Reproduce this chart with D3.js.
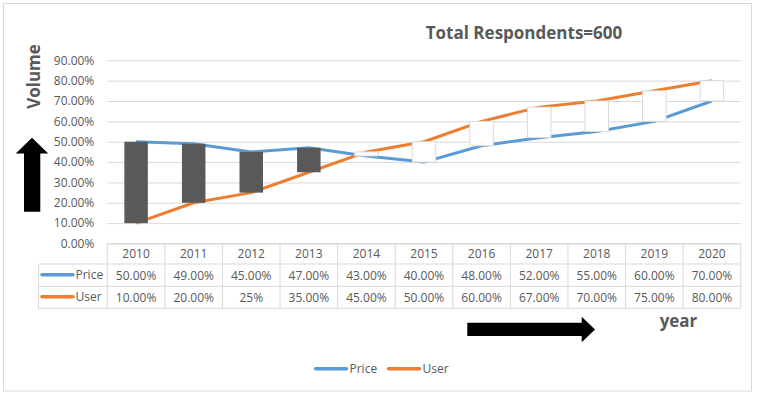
<!DOCTYPE html>
<html>
<head>
<meta charset="utf-8">
<script src="https://cdn.jsdelivr.net/npm/d3@7"></script>
<style>
  body { margin: 0; background: #fff; }
  svg text { font-family: "Open Sans", sans-serif; fill: #595959; }
</style>
</head>
<body>
<div id="chart"></div>
<script>
////
// DATA
////
const years = ["2010", "2011", "2012", "2013", "2014", "2015", "2016", "2017", "2018", "2019", "2020"];
const price = [0.50, 0.49, 0.45, 0.47, 0.43, 0.40, 0.48, 0.52, 0.55, 0.60, 0.70];
const user = [0.10, 0.20, 0.25, 0.35, 0.45, 0.50, 0.60, 0.67, 0.70, 0.75, 0.80];
// labels as printed in the data table (2012 user is shown as "25%")
const priceLabels = ["50.00%", "49.00%", "45.00%", "47.00%", "43.00%", "40.00%", "48.00%", "52.00%", "55.00%", "60.00%", "70.00%"];
const userLabels = ["10.00%", "20.00%", "25%", "35.00%", "45.00%", "50.00%", "60.00%", "67.00%", "70.00%", "75.00%", "80.00%"];
const yTicks = [0, 0.1, 0.2, 0.3, 0.4, 0.5, 0.6, 0.7, 0.8, 0.9];
const seriesNames = ["Price", "User"];
const seriesColors = { Price: "#5b9bd5", User: "#ed7d31" };

////
// CONTAINER
////
const W = 760, H = 396;
const plot = { left: 107.3, right: 740.7, top: 60.3, bottom: 243.5 };

const svg = d3.select("#chart").append("svg")
    .attr("width", W)
    .attr("height", H);

// outer chart border
svg.append("rect")
    .attr("x", 3.5).attr("y", 3.5)
    .attr("width", 748).attr("height", 387.5)
    .attr("fill", "#fff")
    .attr("stroke", "#d9d9d9");

const x = d3.scaleBand()
    .domain(years)
    .range([plot.left, plot.right])
    .padding(0);

const y = d3.scaleLinear()
    .domain([0, 0.9])
    .range([plot.bottom, plot.top]);

// gridlines
svg.append("g")
    .attr("transform", `translate(${plot.left},0)`)
    .call(d3.axisLeft(y).tickValues(yTicks).tickSize(-(plot.right - plot.left)).tickFormat(""))
    .call(g => g.select(".domain").remove())
    .call(g => g.selectAll(".tick line").attr("stroke", "#d9d9d9"));

// y axis labels
svg.append("g")
    .attr("transform", `translate(${plot.left},0)`)
    .call(d3.axisLeft(y).tickValues(yTicks).tickSize(0).tickPadding(13).tickFormat(d3.format(".2%")))
    .call(g => g.select(".domain").remove())
    .call(g => g.selectAll(".tick text")
        .style("font-family", "'Open Sans', sans-serif")
        .style("font-size", "12px")
        .attr("fill", "#595959"));

// series lines
const cx = d => x(d) + x.bandwidth() / 2;
const lineGen = d3.line()
    .x(d => cx(d.year))
    .y(d => y(d.v));

[["Price", price], ["User", user]].forEach(([name, vals]) => {
    svg.append("path")
        .datum(years.map((yr, i) => ({ year: yr, v: vals[i] })))
        .attr("d", lineGen)
        .attr("fill", "none")
        .attr("stroke", seriesColors[name])
        .attr("stroke-width", 3)
        .attr("stroke-linejoin", "round");
});

// up / down bars
const barW = 23.5;
svg.selectAll(".updown")
    .data(years.map((yr, i) => ({ year: yr, p: price[i], u: user[i] })))
    .enter()
    .append("rect")
    .attr("class", "updown")
    .attr("x", d => cx(d.year) - barW / 2)
    .attr("y", d => y(Math.max(d.p, d.u)))
    .attr("width", barW)
    .attr("height", d => Math.abs(y(d.p) - y(d.u)))
    .attr("fill", d => d.p > d.u ? "#595959" : "#fff")
    .attr("stroke", d => d.p > d.u ? "none" : "#d9d9d9")
    .attr("stroke-width", 1);

////
// DATA TABLE
////
const rowLines = [plot.bottom, 264, 286.3, 308.3];
const tableLeft = 38.5;
const tbl = svg.append("g").attr("class", "table");

// horizontal lines
tbl.selectAll(".hline")
    .data(rowLines)
    .enter().append("line")
    .attr("x1", (d, i) => i === 0 ? plot.left : tableLeft)
    .attr("x2", plot.right)
    .attr("y1", d => d).attr("y2", d => d)
    .attr("stroke", "#d9d9d9");

// vertical lines
const colEdges = years.map(d => x(d)).concat([plot.right]);
tbl.selectAll(".vline")
    .data(colEdges)
    .enter().append("line")
    .attr("x1", d => d).attr("x2", d => d)
    .attr("y1", rowLines[0]).attr("y2", rowLines[3])
    .attr("stroke", "#d9d9d9");
tbl.append("line")
    .attr("x1", tableLeft).attr("x2", tableLeft)
    .attr("y1", rowLines[1]).attr("y2", rowLines[3])
    .attr("stroke", "#d9d9d9");

const rowMid = (i) => (rowLines[i] + rowLines[i + 1]) / 2;

tbl.selectAll(".yearLabel")
    .data(years)
    .enter().append("text")
    .attr("x", d => cx(d))
    .attr("y", rowMid(0))
    .attr("text-anchor", "middle")
    .attr("dominant-baseline", "central")
    .style("font-size", "12px")
    .text(d => d);

[priceLabels, userLabels].forEach((labels, r) => {
    tbl.selectAll(".cell" + r)
        .data(labels)
        .enter().append("text")
        .attr("x", (d, i) => cx(years[i]))
        .attr("y", rowMid(r + 1))
        .attr("text-anchor", "middle")
        .attr("dominant-baseline", "central")
        .style("font-size", "12px")
        .text(d => d);
});

// legend keys inside the table
seriesNames.forEach((name, r) => {
    const yy = rowMid(r + 1) - 0.5;
    tbl.append("line")
        .attr("x1", 42).attr("x2", 73)
        .attr("y1", yy).attr("y2", yy)
        .attr("stroke", seriesColors[name])
        .attr("stroke-width", 3.5)
        .attr("stroke-linecap", "round");
    tbl.append("text")
        .attr("x", 75.5).attr("y", yy)
        .attr("dominant-baseline", "central")
        .style("font-size", "12px")
        .text(name);
});

////
// TITLES, ARROWS, LEGEND
////
svg.append("text")
    .attr("x", 524).attr("y", 32)
    .attr("text-anchor", "middle")
    .attr("dominant-baseline", "central")
    .style("font-size", "17px")
    .style("font-weight", "bold")
    .text("Total Respondents=600");

svg.append("text")
    .attr("transform", "translate(33.5,76.5) rotate(-90)")
    .attr("text-anchor", "middle")
    .attr("dominant-baseline", "central")
    .style("font-size", "17px")
    .style("font-weight", "bold")
    .text("Volume");

svg.append("text")
    .attr("x", 678.5).attr("y", 320.5)
    .attr("text-anchor", "middle")
    .attr("dominant-baseline", "central")
    .style("font-size", "17px")
    .style("font-weight", "bold")
    .text("year");

// up arrow
svg.append("path")
    .attr("d", "M32,137.7 L48.3,153.5 L40.3,153.5 L40.3,211.7 L24,211.7 L24,153.5 L15.7,153.5 Z")
    .attr("fill", "#000");

// right arrow
svg.append("path")
    .attr("d", "M595,329.5 L581.7,316.7 L581.7,322.7 L467.3,322.7 L467.3,336 L581.7,336 L581.7,342.3 Z")
    .attr("fill", "#000");

// bottom legend
const legendX = { Price: 315.5, User: 388.5 };
const legend = svg.append("g");
seriesNames.forEach(name => {
    legend.append("line")
        .attr("x1", legendX[name]).attr("x2", legendX[name] + 31)
        .attr("y1", 368.7).attr("y2", 368.7)
        .attr("stroke", seriesColors[name])
        .attr("stroke-width", 3.5)
        .attr("stroke-linecap", "round");
    legend.append("text")
        .attr("x", legendX[name] + 34).attr("y", 368.7)
        .attr("dominant-baseline", "central")
        .style("font-size", "12px")
        .text(name);
});
</script>
</body>
</html>
